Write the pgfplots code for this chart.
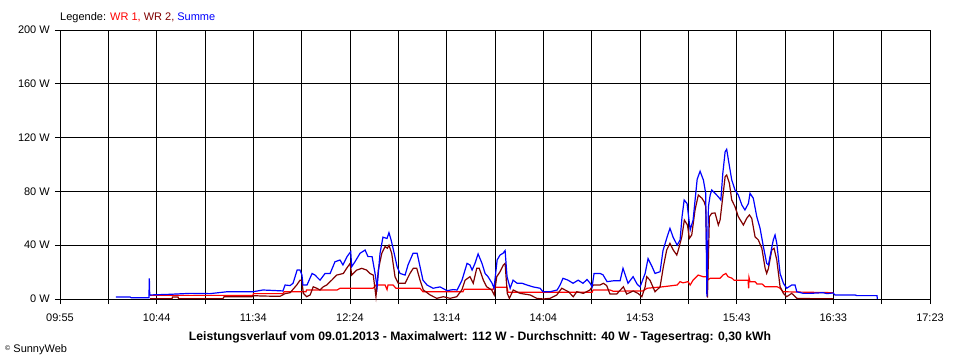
\documentclass[border=0pt]{standalone}
\usepackage{fontspec}
\setmainfont{Liberation Sans}
\usepackage{pgfplots}
\pgfplotsset{compat=1.18}
\definecolor{wrone}{RGB}{255,0,0}
\definecolor{wrtwo}{RGB}{128,0,0}
\definecolor{summe}{RGB}{0,0,255}
\definecolor{midgray}{RGB}{128,128,128}
\begin{document}
\begin{tikzpicture}[x=1pt,y=1pt]
\useasboundingbox (0,0) rectangle (960,360);
\begin{axis}[
  at={(60pt,61pt)}, anchor=south west,
  scale only axis, width=870pt, height=269pt,
  xmin=0, xmax=448, ymin=0, ymax=200,
  axis line style={black, line width=1pt},
  xtick={0,49.778,99.556,149.333,199.111,248.889,298.667,348.444,398.222,448},
  xticklabels={09:55,10:44,11:34,12:24,13:14,14:04,14:53,15:43,16:33,17:23},
  minor xtick={24.889,74.667,124.444,174.222,224,273.778,323.556,373.333,423.111},
  ytick={0,80,120,160,200},
  yticklabels={0 W,80 W,120 W,160 W,200 W},
  extra y ticks={40}, extra y tick labels={40 W},
  extra y tick style={grid style={midgray, line width=1pt}},
  xmajorgrids, xminorgrids, ymajorgrids,
  major grid style={black, line width=1pt},
  minor grid style={black, line width=1pt},
  tick align=outside, major tick length=5pt, minor tick length=5pt,
  tick style={black, line width=1pt},
  xtick pos=bottom, ytick pos=left,
  ticklabel style={font=\fontsize{11}{13}\selectfont},
  xticklabel style={anchor=base, inner sep=0pt, yshift=-17pt},
  yticklabel style={anchor=east, inner sep=0pt, xshift=-5pt},
  clip=false,
]
\addplot[wrone, line width=1.2pt] coordinates {
(46.4,2.7)(99.4,2.7)(99.6,4)(114.8,4)(115.4,5.4)(126.7,5.4)(126.9,6.7)(142.7,6.7)
(144.2,8)(161.2,8)(162.7,10.4)(167.4,10.4)(168.4,7)(168.9,10.4)(171.5,10.4)(173.0,8)
(185.4,8)(186.9,5.4)(207.5,5.4)(208.1,7.2)(223.0,7.2)(223.5,8.7)(230.2,8.7)(230.7,5)
(274.0,5)(274.5,6.7)(283.2,6.7)(284.8,5.8)(300.2,6)(302.3,8)(310.5,9.1)(317.8,10.4)
(319.3,12.9)(320.8,12)(323.4,12.9)(324.5,10.4)(326.0,14)(328.6,17.8)(331.1,16.6)
(333.1,16.6)(333.4,14)(334.8,15.4)(339.9,15.4)(341.4,17.8)(342.9,19)(344.0,16.6)
(346.1,15.4)(347.1,14)(354.3,14)(354.6,8)(354.8,16)(355.3,12.9)(357.9,12.9)
(358.9,11.2)(361.5,11.2)(363.1,9.1)(369.3,9.1)(370.8,8)(372.3,5.4)(386.2,5)(398.1,4.7)
};
\addplot[wrtwo, line width=1.2pt] coordinates {
(46.4,0.3)(57.7,0.3)(57.9,1.5)(60.8,1.5)(61.0,0.3)(83.9,0.3)(84.5,1.7)(98.9,1.7)
(99.4,2.5)(104.5,2.2)(113.3,2.0)(115.9,4)(118.5,4.7)(121.9,10.4)(123.6,14)(124.5,14)
(125.3,4.2)(127.0,1.7)(128.8,3)(130.4,9.1)(132.2,8)(133.9,6.7)(135.6,9.1)(137.3,10.4)
(139.9,14)(142.5,17.8)(145.9,19)(147.6,22.8)(149.4,26.5)(150.2,17.8)(152.8,21.5)
(155.4,22.8)(157.9,21.5)(159.6,19)(161.3,17.8)(162.7,1.7)(163.9,21.5)(165.7,34)
(167.4,39)(168.6,37.7)(169.4,40)(170.8,34)(172.5,16.6)(174.2,11.7)(177.7,11.7)
(180.2,19)(181.9,22.8)(183.7,22.8)(185.4,14)(187.1,6.7)(190.6,3)(194.0,0.5)(197.4,1.7)
(200.9,0.5)(204.3,1.7)(206.9,6.7)(208.6,14)(211.1,16.6)(212.8,11.7)(214.6,22.8)
(215.9,22.8)(218.0,14)(219.7,9.1)(222.3,6.7)(223.6,3)(224.9,16.6)(226.6,20.3)
(228.3,25.3)(229.2,26.5)(230.3,4.2)(231.4,0.5)(233.4,6.7)(236.9,4.2)(242.1,3)
(245.5,0.5)(248.9,0)(252.4,0.5)(255.8,3)(258.4,8)(261.8,5.4)(264.3,1.7)(266.1,5.4)
(269.5,4.2)(272.9,6.7)(274.6,10.4)(278.1,10.4)(279.8,11.7)(281.5,10)(283.2,3.7)
(286.7,3.7)(290.1,9.1)(291.8,3.7)(295.2,6)(297.8,4)(299.6,1.7)(301.3,9)(302.1,16.6)
(303.8,14)(306.4,5.4)(309.0,9)(310.7,24)(312.4,36.4)(314.1,41.4)(315.8,36.4)
(317.6,32.7)(318.4,36.4)(320.2,46.3)(321.5,58.7)(323.1,55)(324.1,45.1)(325.3,47.6)
(327.0,66.2)(328.7,77.3)(330.5,75)(331.7,72.3)(332.5,68.6)(333.4,1)(334.4,61.2)
(335.6,63.7)(337.3,64)(339.0,55)(339.9,58.7)(341.3,76)(342.5,91)(343.3,92.2)
(344.7,86)(345.9,73.6)(347.6,68.6)(349.3,61.2)(351.9,55)(353.6,60)(355.0,62.5)
(356.2,60)(357.9,46.3)(359.6,43.9)(361.4,37.7)(363.1,22.8)(363.9,19)(364.8,22.8)
(366.5,36.4)(367.7,37.7)(369.1,29)(370.8,9.1)(372.5,4.2)(374.2,1.7)(376.8,4.2)
(379.4,0.5)(386.2,0.3)(398.1,0.3)
};
\addplot[summe, line width=1.2pt] coordinates {
(28.8,1.5)(36.1,1.5)(36.6,1.0)(45.8,1.0)(46.0,15.4)(46.2,3.0)(56.7,3.5)(67.0,4.2)
(77.3,4.0)(86.0,5.4)(99.4,5.4)(104.5,6.7)(114.8,6.0)(115.9,10.4)(118.5,10.0)
(120.0,11.7)(122.1,21.5)(123.6,21.5)(124.6,17.8)(125.1,10.4)(127.2,10.4)(129.8,19)
(131.3,17.8)(133.9,14)(136.5,19)(139.1,19)(141.6,27.7)(144.2,29)(145.7,25.3)
(147.8,31.5)(149.7,35.2)(150.2,24)(151.9,27.7)(154.5,34)(157.1,36.4)(158.6,31.5)
(160.7,31.5)(162.2,19.3)(163.3,9)(164.8,34)(166.3,46)(168.4,45)(169.4,49.3)
(170.5,43.9)(171.5,37.7)(173.6,24)(175.1,19)(177.7,17.8)(179.2,25.3)(181.8,34)
(183.9,34)(185.4,24)(186.9,14)(189.0,10.4)(192.1,8)(195.7,9)(199.3,6.2)(202.4,7)
(204.5,6.7)(207.0,14)(209.6,26.5)(211.1,25.3)(212.2,21.5)(213.7,26.5)(215.3,33.5)
(217.3,26.5)(218.9,19)(220.4,16.6)(222.5,11.7)(223.5,8)(225.1,29)(226.6,32.7)
(228.1,34)(229.2,36)(230.2,16.6)(231.8,8)(233.3,14)(235.4,11.7)(237.9,11.7)
(240.5,10.4)(243.6,9)(247.2,8)(248.7,5.4)(252.4,5.4)(256.0,6.7)(257.5,10.4)
(259.0,15.4)(261.6,14)(264.2,11.7)(266.8,14)(269.3,11.7)(271.4,14.5)(273.0,11.7)
(274.0,9)(275.0,19)(278.1,19)(279.6,18)(281.7,12.9)(284.8,13.5)(288.4,13.5)
(289.9,22.8)(292.5,11.7)(295.1,16.6)(297.2,11)(298.7,9)(301.3,19)(302.8,30)
(304.9,24)(306.4,19)(309.0,20.3)(310.5,36)(312.6,46)(314.1,52.5)(315.7,46)
(317.8,40)(319.3,43.9)(320.3,61)(321.4,73.6)(322.9,71)(324.5,51.3)(326.0,58.7)
(328.1,89)(329.6,95)(331.3,88.5)(332.5,78.6)(333.1,1.7)(333.9,68.6)(334.8,77.3)
(335.6,81)(337.3,78.6)(339.0,76)(340.3,73.6)(341.3,93.4)(342.5,109.5)(343.3,111.3)
(344.2,103.3)(345.9,88.5)(347.6,81)(349.3,77.3)(351.1,69.9)(352.7,66.2)(354.5,71.1)
(355.3,78.6)(357.0,74.9)(358.8,61.2)(360.5,52.5)(362.2,38.9)(363.9,26.5)(364.8,25.3)
(365.6,31.5)(367.3,43.9)(368.2,47.6)(369.1,41.4)(370.8,19)(372.5,11.7)(374.2,8)
(376.8,10.4)(378.5,10.4)(379.4,5.4)(382.8,4.2)(386.2,4.2)(392.9,4.7)(395.0,4.0)
(398.1,4.5)(399.1,3.0)(409.4,3.0)(410.4,2.5)(420.7,2.5)(420.9,0)
};
\end{axis}
\node[anchor=base west, inner sep=0pt, font=\fontsize{11}{13}\selectfont] at (60,340)
  {Legende: \textcolor{wrone}{WR 1,} \textcolor{wrtwo}{WR 2,} \textcolor{summe}{Summe}};
\node[anchor=base, inner sep=0pt, font=\fontsize{12.2}{14}\selectfont\bfseries] at (480,20)
  {Leistungsverlauf vom 09.01.2013 - Maximalwert: 112 W - Durchschnitt: 40 W - Tagesertrag: 0,30 kWh};
\node[anchor=base west, inner sep=0pt, font=\fontsize{11}{13}\selectfont] at (5,8)
  {\raisebox{2pt}{\fontsize{7}{8}\selectfont ©} SunnyWeb};
\end{tikzpicture}
\end{document}
